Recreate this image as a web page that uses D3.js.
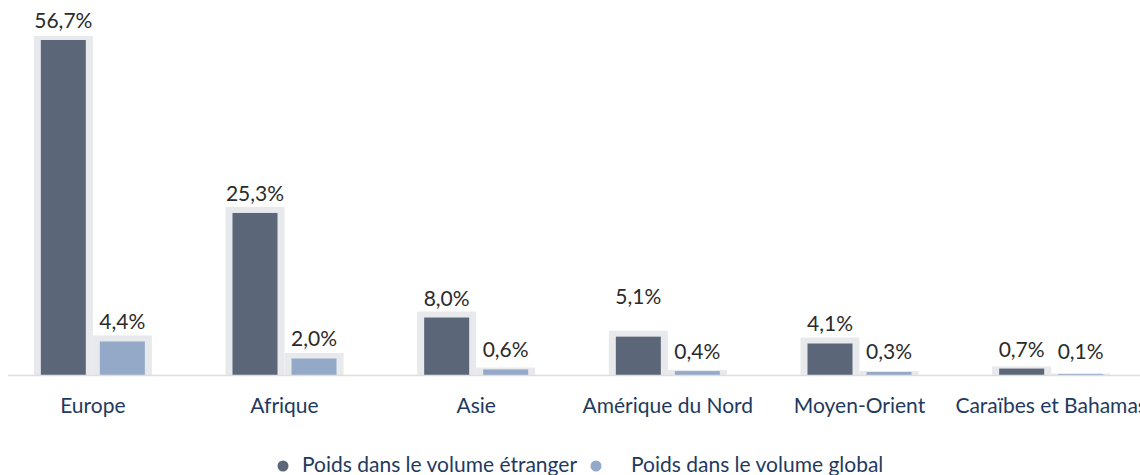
<!DOCTYPE html>
<html>
<head>
  <meta charset="utf-8">
  <script src="https://d3js.org/d3.v7.min.js"></script>
  <style>
    html, body { margin: 0; padding: 0; background: #fff; }
    svg { display: block; font-family: Lato, "Open Sans", sans-serif; }
  </style>
</head>
<body>
  <div id="chart"></div>
  <script>
    var categories = ["Europe", "Afrique", "Asie", "Amérique du Nord", "Moyen-Orient", "Caraïbes et Bahamas"];
    var seriesNames = ["Poids dans le volume étranger", "Poids dans le volume global"];
    var etranger = [56.7, 25.3, 8.0, 5.1, 4.1, 0.7];
    var global = [4.4, 2.0, 0.6, 0.4, 0.3, 0.1];

    var colors = ["#5b6779", "#94a9c7"];
    var width = 1140, height = 475;
    var baseline = 375, plotTop = 36;

    var svg = d3.select("#chart").append("svg")
      .attr("width", width)
      .attr("height", height);

    svg.append("defs").append("clipPath")
      .attr("id", "plot-clip")
      .append("rect")
      .attr("x", -20).attr("y", plotTop)
      .attr("width", width + 40).attr("height", baseline - plotTop);

    // one band per region
    var x0 = d3.scaleBand()
      .domain(categories)
      .range([-3, 1147])
      .padding(0);

    // the two bars inside a band
    var x1 = d3.scaleBand()
      .domain([0, 1])
      .range([-52, 52])
      .paddingInner(14 / 59);

    var y = d3.scalePow()
      .exponent(0.9)
      .domain([0, d3.max(etranger)])
      .range([baseline, 40]);

    var rows = [];
    categories.forEach(function (c, i) {
      [etranger[i], global[i]].forEach(function (v, s) {
        rows.push({ cat: c, i: i, s: s, v: v });
      });
    });

    function barX(d) {
      return x0(d.cat) + x0.bandwidth() / 2 + x1(d.s);
    }

    // light halo behind every bar
    svg.append("g")
      .attr("clip-path", "url(#plot-clip)")
      .selectAll("rect")
      .data(rows)
      .join("rect")
      .attr("x", d => barX(d) - 7)
      .attr("width", x1.bandwidth() + 14)
      .attr("y", function (d) {
        var h = baseline - y(d.v);
        return y(d.v) - Math.min(6, h / 3);
      })
      .attr("height", function (d) {
        var h = baseline - y(d.v);
        return h + Math.min(6, h / 3);
      })
      .attr("fill", "#e8e9ed");

    svg.append("g")
      .selectAll("rect")
      .data(rows)
      .join("rect")
      .attr("x", barX)
      .attr("width", x1.bandwidth())
      .attr("y", d => y(d.v))
      .attr("height", d => baseline - y(d.v))
      .attr("fill", d => colors[d.s]);

    // axis line
    svg.append("line")
      .attr("x1", 8).attr("x2", width)
      .attr("y1", baseline + 0.5).attr("y2", baseline + 0.5)
      .attr("stroke", "#dedede")
      .attr("stroke-width", 1.5);

    // value labels
    svg.append("g")
      .selectAll("text")
      .data(rows)
      .join("text")
      .attr("x", d => barX(d) + x1.bandwidth() / 2)
      .attr("y", function (d) {
        var ly = Math.min(y(d.v) - 12, 359);
        // the original lifts this one label up to the Asie level
        if (d.i === 3 && d.s === 0) ly -= 21;
        return ly;
      })
      .attr("text-anchor", "middle")
      .attr("font-size", "21px")
      .attr("fill", "#2b2b2b")
      .text(d => d.v.toFixed(1).replace(".", ",") + "%");

    // category labels
    svg.append("g")
      .selectAll("text")
      .data(categories)
      .join("text")
      .attr("x", d => x0(d) + x0.bandwidth() / 2)
      .attr("y", 413)
      .attr("text-anchor", "middle")
      .attr("font-size", "21px")
      .attr("fill", "#1f3a60")
      .text(d => d);

    // legend
    var legend = svg.append("g");
    var legendX = [283, 596];
    var textX = [302, 631];
    seriesNames.forEach(function (name, s) {
      legend.append("circle")
        .attr("cx", legendX[s])
        .attr("cy", 466)
        .attr("r", 5.5)
        .attr("fill", colors[s]);
      legend.append("text")
        .attr("x", textX[s])
        .attr("y", 472)
        .attr("font-size", "21px")
        .attr("fill", "#1f3a60")
        .text(name);
    });
  </script>
</body>
</html>
